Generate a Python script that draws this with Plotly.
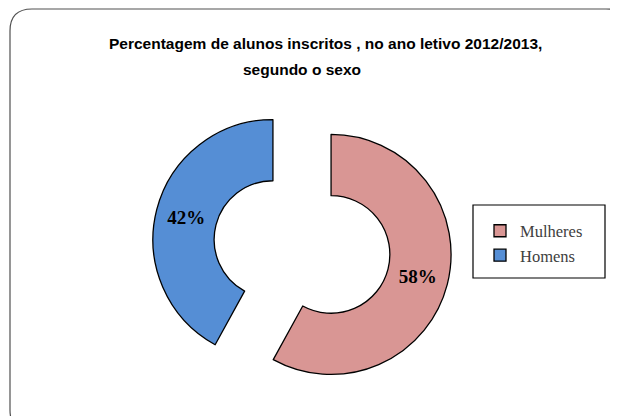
import plotly.graph_objects as go

labels = ["Mulheres", "Homens"]
values = [58, 42]
colors = ["#D99694", "#558ED5"]
title_line1 = "Percentagem de alunos inscritos , no ano letivo 2012/2013,"
title_line2 = "segundo o sexo"

OFF = 8              # default page margin of the html body
W, H = 618 - OFF, 416 - OFF


def px(x):
    return (x - OFF) / W


def py(y):
    return 1 - (y - OFF) / H


fig = go.Figure()
fig.add_trace(go.Pie(
    labels=labels,
    values=values,
    sort=False,
    direction="clockwise",
    rotation=0,
    hole=0.49,
    pull=[0.25, 0.25],
    marker=dict(colors=colors, line=dict(color="black", width=1.3)),
    texttemplate="%{percent:.0%}",
    textposition="inside",
    insidetextorientation="horizontal",
    textfont=dict(family="Liberation Serif", size=19, color="black", weight="bold"),
    domain=dict(x=[px(152), px(452)], y=[py(397), py(97)]),
    hoverinfo="label+percent",
))

# rounded chart border
l, t, r, b, rad = px(10), py(9), px(628), py(432), 22
rx, ry = rad / W, rad / H
path = (f"M {l+rx},{t} L {r-rx},{t} Q {r},{t} {r},{t-ry} L {r},{b+ry} "
        f"Q {r},{b} {r-rx},{b} L {l+rx},{b} Q {l},{b} {l},{b+ry} "
        f"L {l},{t-ry} Q {l},{t} {l+rx},{t} Z")
fig.add_shape(type="path", path=path, xref="paper", yref="paper",
              line=dict(color="#505050", width=1.2), layer="below")

# legend frame
fig.add_shape(type="rect", x0=px(473), x1=px(605), y0=py(278), y1=py(205),
              xref="paper", yref="paper", line=dict(color="black", width=1.2),
              layer="below")

fig.add_annotation(text=f"<b>{title_line1}</b>", x=px(325), y=py(43), xref="paper", yref="paper",
                   showarrow=False, xanchor="center", yanchor="middle",
                   font=dict(family="Liberation Sans", size=15.5, color="black"))
fig.add_annotation(text=f"<b>{title_line2}</b>", x=px(302), y=py(69), xref="paper", yref="paper",
                   showarrow=False, xanchor="center", yanchor="middle",
                   font=dict(family="Liberation Sans", size=15.5, color="black"))

fig.update_layout(
    width=W, height=H,
    margin=dict(l=0, r=0, t=0, b=0),
    paper_bgcolor="white",
    plot_bgcolor="white",
    showlegend=True,
    legend=dict(
        x=px(480), y=py(243), xanchor="left", yanchor="middle",
        borderwidth=0, bgcolor="rgba(0,0,0,0)",
        font=dict(family="Liberation Serif", size=16.5, color="#404040"),
        itemwidth=30,
    ),
)

fig.write_html("out.html")
